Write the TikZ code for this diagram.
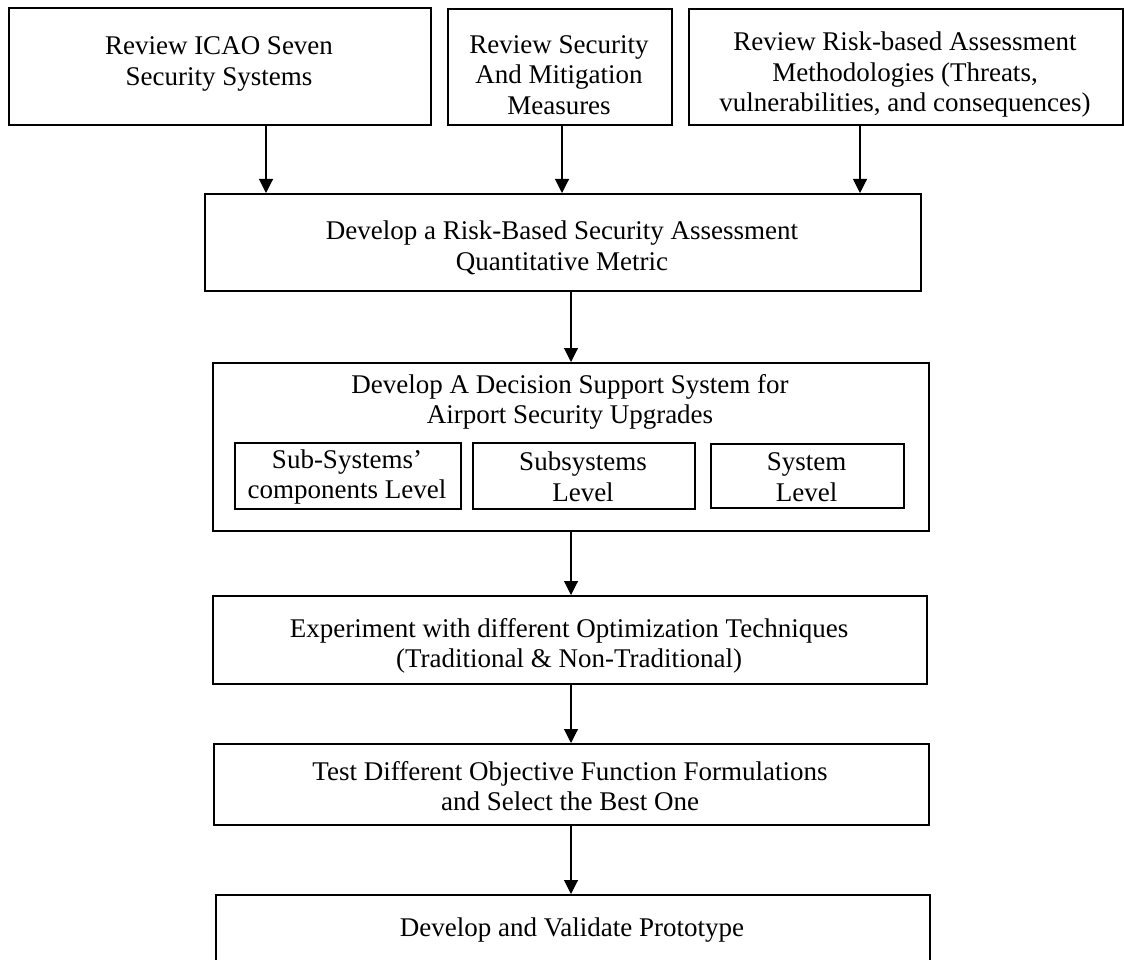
\documentclass[tikz,border=0pt]{standalone}
\usepackage{fontspec}
\setmainfont{Liberation Serif}
\usetikzlibrary{arrows.meta}
\tikzset{
  box/.style={draw=black, line width=1.7pt, inner sep=0pt, anchor=north west},
  txt/.style={align=center, inner sep=0pt, font=\fontsize{27}{30.5}\selectfont},
  arr/.style={draw=black, line width=1.1pt, -{Triangle[length=14pt,width=14pt]}}
}
\begin{document}
\begin{tikzpicture}[x=1pt,y=-1pt]
\useasboundingbox (0,0) rectangle (1124,960);
\clip (0,0) rectangle (1124,960);
% boxes
\node[box, minimum width=422pt, minimum height=117pt] (b1) at (8,7) {};
\node[box, minimum width=224pt, minimum height=116pt] (b2) at (447,8) {};
\node[box, minimum width=434pt, minimum height=116pt] (b3) at (688,8) {};
\node[box, minimum width=716pt, minimum height=97pt] (b4) at (204,193) {};
\node[box, minimum width=716pt, minimum height=168pt] (b5) at (212,362) {};
\node[box, minimum width=226pt, minimum height=66pt] (s1) at (234,442) {};
\node[box, minimum width=222pt, minimum height=66pt] (s2) at (472,442) {};
\node[box, minimum width=193pt, minimum height=64pt] (s3) at (710,443) {};
\node[box, minimum width=714pt, minimum height=88pt] (b6) at (212,595) {};
\node[box, minimum width=715pt, minimum height=81pt] (b7) at (213,743) {};
\node[box, minimum width=714pt, minimum height=90pt] (b8) at (215,894) {};
% texts
\node[txt] (t1) at (219,64) {Review ICAO Seven\\Security Systems};
\node[txt] (t2) at (559,75) {Review Security\\And Mitigation\\Measures};
\node[txt] (t3) at (905,75) {Review Risk-based Assessment\\Methodologies (Threats,\\vulnerabilities, and consequences)};
\node[txt] (t4) at (562,248) {Develop a Risk-Based Security Assessment\\Quantitative Metric};
\node[txt] (t5) at (570,402) {Develop A Decision Support System for\\Airport Security Upgrades};
\node[txt] (ts1) at (347,477) {Sub-Systems’\\components Level};
\node[txt] (ts2) at (583,477) {Subsystems\\Level};
\node[txt] (ts3) at (806.5,477) {System\\Level};
\node[txt] (t6) at (569,646) {Experiment with different Optimization Techniques\\(Traditional \& Non-Traditional)};
\node[txt] (t7) at (570,786) {Test Different Objective Function Formulations\\and Select the Best One};
\node[txt] (t8) at (572,930) {Develop and Validate Prototype};
% arrow columns
\coordinate (c1) at (266,0);
\coordinate (c2) at (562,0);
\coordinate (c3) at (860,0);
\coordinate (cm) at (571,0);
\draw[arr] (b1.south -| c1) -- (b4.north -| c1);
\draw[arr] (b2.south -| c2) -- (b4.north -| c2);
\draw[arr] (b3.south -| c3) -- (b4.north -| c3);
\draw[arr] (b4.south -| cm) -- (b5.north -| cm);
\draw[arr] (b5.south -| cm) -- (b6.north -| cm);
\draw[arr] (b6.south -| cm) -- (b7.north -| cm);
\draw[arr] (b7.south -| cm) -- (b8.north -| cm);
\end{tikzpicture}
\end{document}
